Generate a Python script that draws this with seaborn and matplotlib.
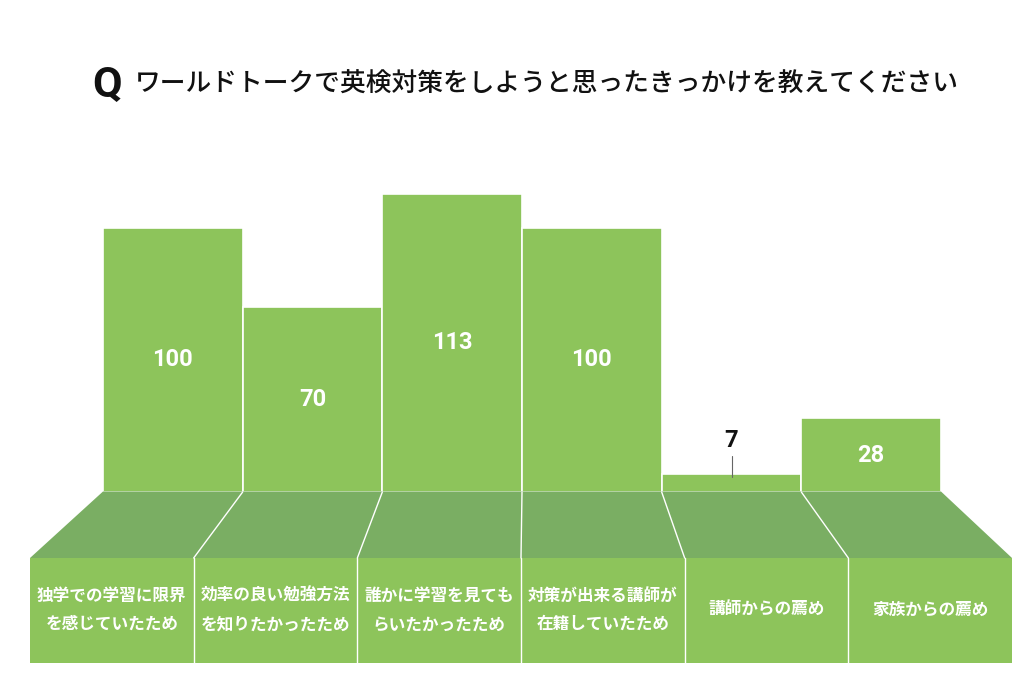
import matplotlib
matplotlib.use("Agg")
import matplotlib.pyplot as plt
from matplotlib.patches import Polygon, Rectangle
import pandas as pd
import seaborn as sns

#Chart data
reasons = [
    "独学での学習に限界\nを感じていたため",
    "効率の良い勉強方法\nを知りたかったため",
    "誰かに学習を見ても\nらいたかったため",
    "対策が出来る講師が\n在籍していたため",
    "講師からの薦め",
    "家族からの薦め",
]
counts = [100, 70, 113, 100, 7, 28]

title_q = "Q"
title_text = "ワールドトークで英検対策をしようと思ったきっかけを教えてください"

BAR_GREEN = "#8DC45B"
FLOOR_GREEN = "#7AAE63"

sns.set_theme(style="white")
plt.rcParams['font.family'] = ['Noto Sans CJK JP', 'DejaVu Sans']

W, H = 1024, 686
fig = plt.figure(figsize=(W / 100, H / 100), dpi=100)

#Layout in pixels (bar area, floor and label boxes)
bar_left, bar_right, bar_bottom = 103, 941, 492
y_max = 120
px_per_unit = 2.64
floor_bottom = 558
box_left, box_right, box_bottom = 30, 1012, 663

ax_h = y_max * px_per_unit
ax = fig.add_axes([bar_left / W, (H - bar_bottom) / H,
                   (bar_right - bar_left) / W, ax_h / H])

df = pd.DataFrame({"reason": reasons, "count": counts})
sns.barplot(data=df, x="reason", y="count", color=BAR_GREEN, saturation=1,
            width=1, edgecolor="white", linewidth=1.2, ax=ax)
ax.set_xlim(-0.5, len(reasons) - 0.5)
ax.set_ylim(0, y_max)
ax.axis("off")

#Value labels
num_font = ["Roboto", "DejaVu Sans"]
for i, v in enumerate(counts):
    if v >= 20:
        ax.text(i, v / 2, str(v), ha="center", va="center", color="white",
                fontsize=17, fontweight="bold", family=num_font)
    else:
        ax.plot([i, i], [v - 1.5, v + 6.6], color="#666666", lw=0.8)
        ax.text(i, v + 12.5, str(v), ha="center", va="center", color="#111111",
                fontsize=17, fontweight="bold", family=num_font)

#Overlay in pixel coordinates for the floor and label boxes
ov = fig.add_axes([0, 0, 1, 1])
ov.set_xlim(0, W)
ov.set_ylim(H, 0)
ov.axis("off")
ov.patch.set_alpha(0)

n = len(reasons)
bar_w = (bar_right - bar_left) / n
box_w = (box_right - box_left) / n

ov.add_patch(Polygon([(bar_left, bar_bottom - 0.5), (bar_right, bar_bottom - 0.5),
                      (box_right, floor_bottom), (box_left, floor_bottom)],
                     closed=True, facecolor=FLOOR_GREEN, edgecolor="none"))
ov.add_patch(Rectangle((box_left, floor_bottom), box_right - box_left,
                       box_bottom - floor_bottom, facecolor=BAR_GREEN, edgecolor="none"))

for k in range(1, n):
    top_x = bar_left + k * bar_w
    bot_x = box_left + k * box_w
    ov.plot([top_x, bot_x], [bar_bottom, floor_bottom], color="white", lw=1)
    ov.plot([bot_x, bot_x], [floor_bottom, box_bottom], color="white", lw=1)

for k, label in enumerate(reasons):
    cx = box_left + (k + 0.5) * box_w
    ov.text(cx, 610, label, ha="center", va="center", color="white",
            fontsize=12, fontweight="bold", linespacing=1.75)

#Title
ov.text(92, 85, title_q, ha="left", va="center", color="#111111",
        fontsize=31, fontweight="bold", family=num_font)
ov.text(135, 84, title_text, ha="left", va="center", color="#111111",
        fontsize=18.5, fontweight="medium")

fig.savefig("out.png", dpi=100, facecolor="white")
